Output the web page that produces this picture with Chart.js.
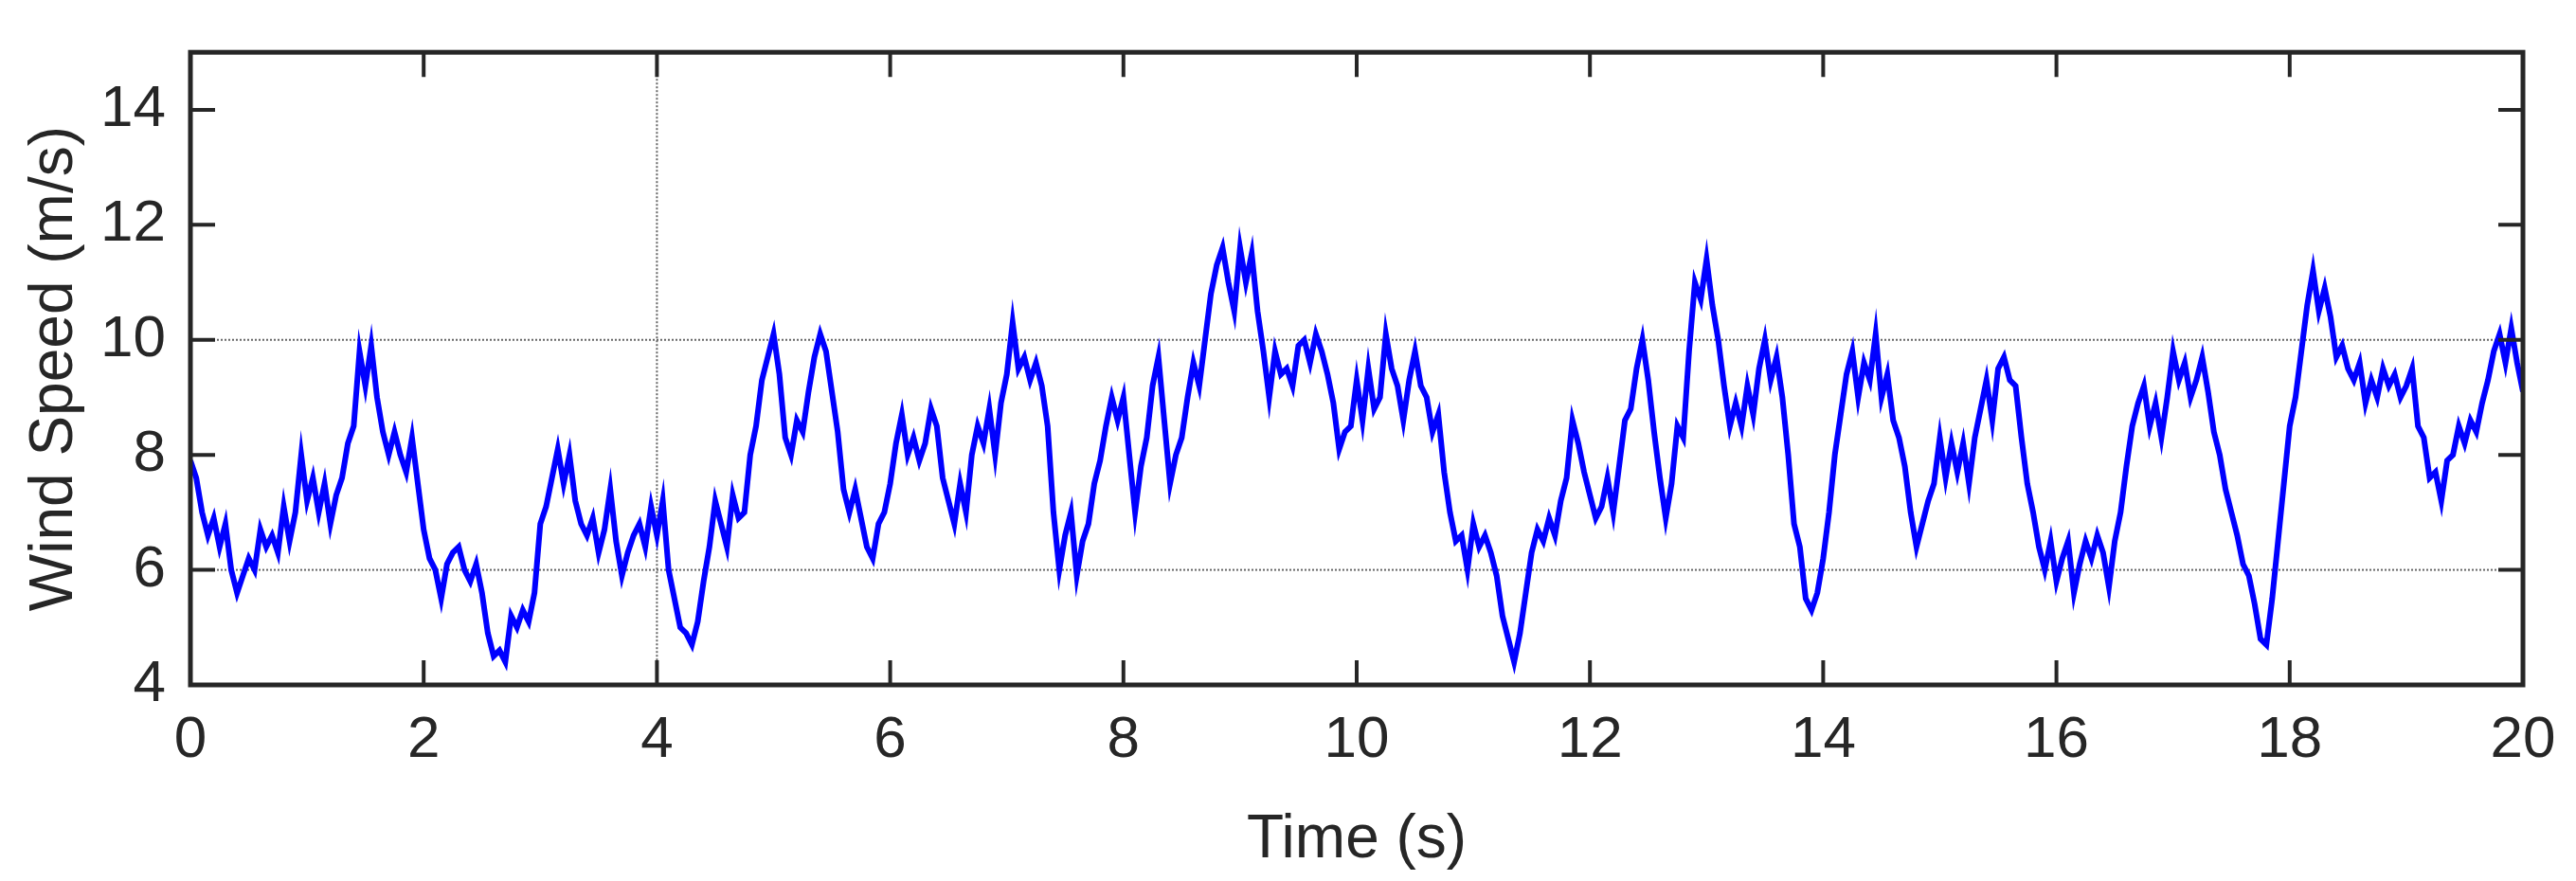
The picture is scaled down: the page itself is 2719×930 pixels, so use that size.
<!DOCTYPE html>
<html>
<head>
<meta charset="utf-8">
<script src="https://cdn.jsdelivr.net/npm/chart.js@4"></script>
<style>
html, body { margin: 0; padding: 0; background: #fff; }
#wrap { width: 2719px; height: 930px; }
</style>
</head>
<body>
<div id="wrap"><canvas id="windChart"></canvas></div>
<script>
// Dados (passo de 0.05 s)
const timeStart = 0;
const timeStep = 0.05;
const windSpeed = [
  7.9, 7.6, 7.0, 6.6, 6.9, 6.4, 6.8, 6.0, 5.6, 5.9, 6.2, 6.0, 6.7, 6.4, 6.6, 6.3, 7.1, 6.5, 7.0, 8.0,
  7.2, 7.6, 7.0, 7.5, 6.8, 7.3, 7.6, 8.2, 8.5, 9.8, 9.2, 9.9, 9.0, 8.4, 8.0, 8.4, 8.0, 7.7, 8.3, 7.5,
  6.7, 6.2, 6.0, 5.5, 6.1, 6.3, 6.4, 6.0, 5.8, 6.1, 5.6, 4.9, 4.5, 4.6, 4.4, 5.2, 5.0, 5.3, 5.1, 5.6,
  6.8, 7.1, 7.6, 8.1, 7.5, 8.0, 7.2, 6.8, 6.6, 6.9, 6.3, 6.7, 7.4, 6.5, 5.9, 6.3, 6.6, 6.8, 6.4, 7.1,
  6.6, 7.2, 6.0, 5.5, 5.0, 4.9, 4.7, 5.1, 5.8, 6.4, 7.2, 6.8, 6.4, 7.3, 6.9, 7.0, 8.0, 8.5, 9.3, 9.7,
  10.1, 9.4, 8.3, 8.0, 8.6, 8.4, 9.1, 9.7, 10.1, 9.8, 9.1, 8.4, 7.4, 7.0, 7.4, 6.9, 6.4, 6.2, 6.8, 7.0,
  7.5, 8.2, 8.7, 8.0, 8.3, 7.9, 8.2, 8.8, 8.5, 7.6, 7.2, 6.8, 7.5, 7.0, 8.0, 8.5, 8.2, 8.8, 8.0, 8.9,
  9.4, 10.3, 9.5, 9.7, 9.3, 9.6, 9.2, 8.5, 7.0, 6.0, 6.6, 7.0, 5.9, 6.5, 6.8, 7.5, 7.9, 8.5, 9.0, 8.6,
  9.0, 8.0, 7.0, 7.8, 8.3, 9.2, 9.7, 8.6, 7.5, 8.0, 8.3, 9.0, 9.6, 9.2, 10.0, 10.8, 11.3, 11.6, 11.0, 10.5,
  11.6, 11.0, 11.5, 10.5, 9.8, 9.0, 9.8, 9.4, 9.5, 9.2, 9.9, 10.0, 9.6, 10.1, 9.8, 9.4, 8.9, 8.1, 8.4, 8.5,
  9.3, 8.6, 9.5, 8.8, 9.0, 10.1, 9.5, 9.2, 8.6, 9.3, 9.8, 9.2, 9.0, 8.4, 8.7, 7.7, 7.0, 6.5, 6.6, 6.0,
  6.8, 6.4, 6.6, 6.3, 5.9, 5.2, 4.8, 4.4, 4.9, 5.6, 6.3, 6.7, 6.5, 6.9, 6.6, 7.2, 7.6, 8.6, 8.2, 7.7,
  7.3, 6.9, 7.1, 7.6, 7.0, 7.8, 8.6, 8.8, 9.5, 10.0, 9.3, 8.4, 7.6, 6.9, 7.5, 8.5, 8.3, 9.8, 11.0, 10.7,
  11.4, 10.6, 10.0, 9.2, 8.5, 8.9, 8.5, 9.2, 8.7, 9.5, 10.0, 9.3, 9.7, 9.0, 8.0, 6.8, 6.4, 5.5, 5.3, 5.6,
  6.2, 7.0, 8.0, 8.7, 9.4, 9.8, 9.0, 9.6, 9.3, 10.1, 9.0, 9.4, 8.6, 8.3, 7.8, 7.0, 6.4, 6.8, 7.2, 7.5,
  8.3, 7.6, 8.2, 7.7, 8.2, 7.5, 8.3, 8.8, 9.3, 8.6, 9.5, 9.7, 9.3, 9.2, 8.3, 7.5, 7.0, 6.4, 6.0, 6.5,
  5.8, 6.2, 6.5, 5.6, 6.1, 6.5, 6.2, 6.6, 6.3, 5.7, 6.5, 7.0, 7.8, 8.5, 8.9, 9.2, 8.5, 8.9, 8.3, 9.0,
  9.8, 9.3, 9.6, 9.0, 9.3, 9.7, 9.1, 8.4, 8.0, 7.4, 7.0, 6.6, 6.1, 5.9, 5.4, 4.8, 4.7, 5.5, 6.5, 7.5,
  8.5, 9.0, 9.8, 10.6, 11.2, 10.5, 10.9, 10.4, 9.7, 9.9, 9.5, 9.3, 9.6, 8.9, 9.3, 9.0, 9.5, 9.2, 9.4, 9.0,
  9.2, 9.5, 8.5, 8.3, 7.6, 7.7, 7.2, 7.9, 8.0, 8.5, 8.2, 8.6, 8.4, 8.9, 9.3, 9.8, 10.1, 9.6, 10.2, 9.6,
  9.1
];
const xTicks = [0, 2, 4, 6, 8, 10, 12, 14, 16, 18, 20];
const yTicks = [4, 6, 8, 10, 12, 14];
const hGrid = [6, 10];
const vGrid = [4];

const points = windSpeed.map((v, i) => ({ x: +(timeStart + i * timeStep).toFixed(2), y: v }));

const font = 'Arial, "Liberation Sans", sans-serif';

// Moldura, ticks internos e grade pontilhada
const framePlugin = {
  id: 'frame',
  beforeDatasetsDraw(chart) {
    const { ctx, chartArea: a, scales: { x, y } } = chart;
    ctx.save();
    ctx.strokeStyle = '#666';
    ctx.lineWidth = 2;
    ctx.setLineDash([2, 2]);
    hGrid.forEach(v => {
      const py = y.getPixelForValue(v);
      ctx.beginPath(); ctx.moveTo(a.left, py); ctx.lineTo(a.right, py); ctx.stroke();
    });
    vGrid.forEach(v => {
      const px = x.getPixelForValue(v);
      ctx.beginPath(); ctx.moveTo(px, a.top); ctx.lineTo(px, a.bottom); ctx.stroke();
    });
    ctx.restore();
  },
  afterDatasetsDraw(chart) {
    const { ctx, chartArea: a, scales: { x, y } } = chart;
    ctx.save();
    ctx.strokeStyle = '#262626';
    ctx.lineWidth = 5;
    ctx.strokeRect(a.left, a.top, a.right - a.left, a.bottom - a.top);
    ctx.lineWidth = 4;
    const len = 26;
    xTicks.forEach(v => {
      const px = x.getPixelForValue(v);
      ctx.beginPath();
      ctx.moveTo(px, a.bottom); ctx.lineTo(px, a.bottom - len);
      ctx.moveTo(px, a.top); ctx.lineTo(px, a.top + len);
      ctx.stroke();
    });
    yTicks.forEach(v => {
      const py = y.getPixelForValue(v);
      ctx.beginPath();
      ctx.moveTo(a.left, py); ctx.lineTo(a.left + len, py);
      ctx.moveTo(a.right, py); ctx.lineTo(a.right - len, py);
      ctx.stroke();
    });
    ctx.restore();
  }
};

new Chart(document.getElementById('windChart').getContext('2d'), {
  type: 'line',
  data: {
    datasets: [{
      data: points,
      borderColor: '#0000ff',
      borderWidth: 6,
      pointRadius: 0,
      tension: 0
    }]
  },
  options: {
    responsive: true,
    maintainAspectRatio: false,
    animation: false,
    layout: { padding: { top: 22, right: 56, left: 0, bottom: 0 } },
    plugins: { legend: { display: false }, tooltip: { enabled: false } },
    scales: {
      x: {
        type: 'linear',
        min: 0, max: 20,
        afterFit: s => { s.height = 207; },
        afterBuildTicks: s => { s.ticks = xTicks.map(v => ({ value: v })); },
        grid: { display: false },
        border: { display: false },
        ticks: { color: '#262626', font: { family: font, size: 62 }, padding: 14, maxRotation: 0 },
        title: { display: true, text: 'Time (s)', color: '#262626', font: { family: font, size: 64 }, padding: { top: 4 } }
      },
      y: {
        min: 4, max: 15,
        afterFit: s => { s.width = 201; },
        afterBuildTicks: s => { s.ticks = yTicks.map(v => ({ value: v })); },
        grid: { display: false },
        border: { display: false },
        ticks: { color: '#262626', font: { family: font, size: 62 }, padding: 18 },
        title: { display: true, text: 'Wind Speed (m/s)', color: '#262626', font: { family: font, size: 64 }, padding: { top: 20, bottom: 0 } }
      }
    }
  },
  plugins: [framePlugin]
});
</script>
</body>
</html>
